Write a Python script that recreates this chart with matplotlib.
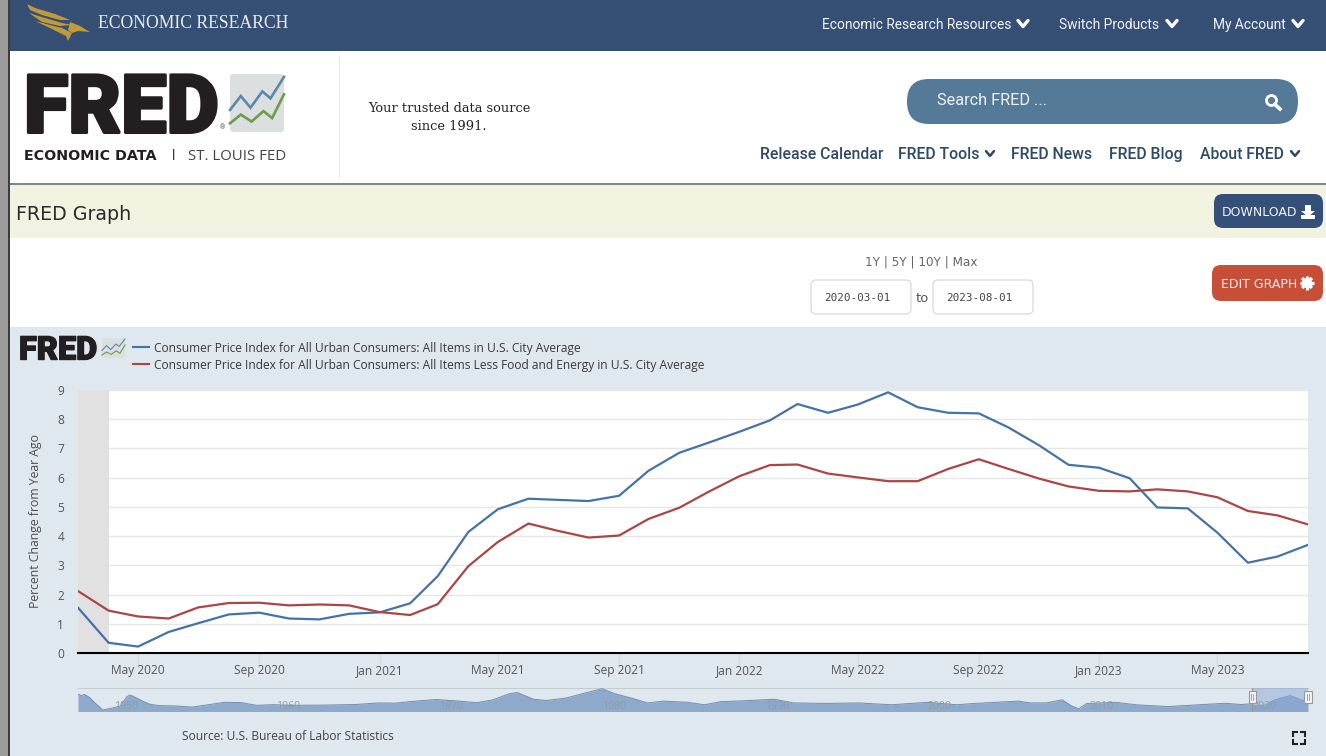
"""FRED graph page: CPI vs core CPI, percent change from year ago"""

import math

import matplotlib
matplotlib.use('Agg')
import matplotlib.pyplot as plt
import matplotlib.dates as mdates
import matplotlib.patheffects as pe
import pandas as pd
from matplotlib.patches import Rectangle, FancyBboxPatch, Polygon, Circle

W, H = 1326, 756

# main chart data, monthly from 2020-03
months = pd.date_range('2020-03-01', '2023-08-01', freq='MS')
all_items = [1.55, 0.35, 0.22, 0.72, 1.02, 1.32, 1.38, 1.18, 1.15, 1.34,
             1.39, 1.70, 2.63, 4.14, 4.92, 5.28, 5.24, 5.20, 5.38, 6.24, 6.85, 7.20,
             7.57, 7.96, 8.52, 8.22, 8.50, 8.92, 8.41, 8.22, 8.20, 7.72, 7.11, 6.44,
             6.34, 5.98, 4.98, 4.95, 4.12, 3.09, 3.30, 3.70]
core = [2.12, 1.45, 1.25, 1.18, 1.56, 1.71, 1.72, 1.63, 1.66, 1.63,
        1.40, 1.30, 1.67, 2.97, 3.80, 4.43, 4.18, 3.95, 4.02, 4.59, 4.97, 5.52,
        6.05, 6.43, 6.45, 6.14, 6.01, 5.88, 5.88, 6.30, 6.63, 6.30, 5.97, 5.70,
        5.55, 5.53, 5.60, 5.53, 5.33, 4.86, 4.71, 4.40]
recession_start, recession_end = '2020-03-01', '2020-04-01'
x_ticks = ['2020-05-01', '2020-09-01', '2021-01-01', '2021-05-01', '2021-09-01',
           '2022-01-01', '2022-05-01', '2022-09-01', '2023-01-01', '2023-05-01']
y_ticks = list(range(10))

series_names = ['Consumer Price Index for All Urban Consumers: All Items in U.S. City Average',
                'Consumer Price Index for All Urban Consumers: All Items Less Food and Energy in U.S. City Average']
series_colors = ['#4572a7', '#aa4643']

# navigator strip, long history of the first series
nav_years = [1948.0, 1948.2, 1948.4, 1948.7, 1949.0, 1949.3, 1949.5, 1950.0, 1950.6, 1951.0, 1951.2,
             1951.6, 1952.0, 1952.4, 1953.0, 1954.0, 1955.0, 1956.0, 1957.0, 1958.0, 1959.0, 1960.0,
             1961.0, 1963.0, 1965.0, 1966.5, 1967.5, 1968.5, 1970.0, 1971.5, 1972.5, 1973.5, 1974.5,
             1975.0, 1976.0, 1976.8, 1978.0, 1979.0, 1980.2, 1981.0, 1982.0, 1983.0, 1984.0, 1985.5,
             1986.5, 1987.5, 1989.0, 1990.8, 1992.0, 1994.0, 1996.0, 1998.0, 2000.2, 2002.0, 2003.0,
             2005.8, 2006.5, 2007.5, 2008.5, 2009.0, 2009.5, 2010.0, 2011.8, 2013.0, 2015.0, 2016.5,
             2018.5, 2019.5, 2020.1, 2020.4, 2021.0, 2021.5, 2022.5, 2023.0, 2023.6]
nav_values = [10.2, 8.8, 10.0, 7.5, 3.5, 0.0, -2.8, -1.5, 0.5, 8.0, 9.5,
              7.0, 4.3, 2.0, 0.8, 0.5, -0.4, 1.5, 3.5, 3.3, 1.0, 1.6,
              1.0, 1.2, 1.7, 3.0, 2.8, 4.2, 5.8, 4.4, 3.2, 5.5, 10.5,
              11.5, 6.0, 5.0, 7.0, 10.5, 14.6, 10.5, 7.0, 3.0, 4.5, 3.5,
              1.5, 4.0, 4.8, 6.0, 3.0, 2.6, 3.0, 1.5, 3.5, 1.5, 2.5,
              4.5, 3.0, 3.0, 5.5, 1.0, -1.8, 2.5, 3.5, 1.5, 0.0, 1.2,
              2.7, 1.7, 2.3, 0.3, 1.4, 5.3, 9.0, 6.4, 3.7]
nav_ticks = [1950, 1960, 1970, 1980, 1990, 2000, 2010, 2020]
nav_window = [2020.17, 2023.6]


def px_axes(left, top, right, bottom, **kw):
    """axes placed by screenshot pixels"""
    return fig.add_axes([left / W, 1 - bottom / H, (right - left) / W, (bottom - top) / H], **kw)


def rect(x0, y0, x1, y1, color, **kw):
    page.add_patch(Rectangle((x0, y0), x1 - x0, y1 - y0, facecolor=color, edgecolor='none', **kw))


def rbox(x0, y0, x1, y1, r, color, edge='none'):
    page.add_patch(FancyBboxPatch((x0 + r, y0 + r), x1 - x0 - 2 * r, y1 - y0 - 2 * r,
                                  boxstyle=f'round,pad={r},rounding_size={r}',
                                  facecolor=color, edgecolor=edge, linewidth=0.8))


def chevron(x, y, w, color, lw):
    page.plot([x - w, x, x + w], [y - w * 0.6, y + w * 0.6, y - w * 0.6],
              color=color, lw=lw, solid_capstyle='round', solid_joinstyle='round')


def label(x, y, s, px, color='#333333', ha='left', family='Roboto', **kw):
    return page.text(x, y, s, fontsize=px * 0.72, color=color, ha=ha, va='center_baseline', family=family, **kw)


def mini_chart(x0, y0, x1, y1, lw):
    """the small rising lines icon next to the FRED wordmark"""
    w, h = x1 - x0, y1 - y0
    rbox(x0, y0, x1, y1, h * 0.06, '#dcdfe0')
    blue = [(0, .62), (.2, .38), (.38, .58), (.6, .30), (.75, .42), (1, .05)]
    green = [(0, .85), (.2, .70), (.4, .82), (.62, .64), (.78, .76), (1, .35)]
    for pts, c in ((blue, '#5b87ab'), (green, '#6f9a4a')):
        page.plot([x0 + a * w for a, b in pts], [y0 + b * h for a, b in pts],
                  color=c, lw=lw, solid_joinstyle='miter')


fig = plt.figure(figsize=(W / 100, H / 100), dpi=100, facecolor='white')
page = fig.add_axes([0, 0, 1, 1])
page.set_xlim(0, W)
page.set_ylim(H, 0)
page.axis('off')

# page bands
rect(0, 0, 8, H, '#9c9c9c')
rect(8, 0, 10, H, '#3c3c3c')
rect(10, 0, W, 51, '#364f75')
rect(10, 183, W, 184.5, '#6f8c96')
rect(10, 184.5, W, 238, '#f1f2e0')
rect(10, 327, W, H, '#dfe7ef')
rect(338.5, 55, 340, 178, '#e6e6e6')

# top bar, eagle feathers then head
gold = '#c39a3a'
for pts in ([(27, 4), (35, 8), (55, 14), (70, 20), (60, 20), (42, 15), (30, 10)],
            [(29, 13), (45, 18), (62, 23), (72, 25), (60, 26), (42, 22)],
            [(35, 21), (50, 25), (62, 28), (72, 33), (68, 41), (66, 36), (52, 29)],
            [(70, 22), (80, 26), (90, 32), (78, 31), (72, 33), (68, 30)]):
    page.add_patch(Polygon(pts, facecolor=gold, edgecolor='none'))
label(98, 21, 'ECONOMIC RESEARCH', 17.6, '#e9edf2', family='Liberation Serif')
label(822, 23.5, 'Economic Research Resources', 13.7, '#f2f4f7')
chevron(1023, 23.5, 5, 'white', 2.4)
label(1059, 23.5, 'Switch Products', 13.7, '#f2f4f7')
chevron(1172, 23.5, 5, 'white', 2.4)
label(1213, 24, 'My Account', 13.7, '#f2f4f7')
chevron(1298, 23.5, 5, 'white', 2.4)

# logo row
logo = label(24, 102, 'FRED', 81, '#231f20', fontweight='black')
logo.set_path_effects([pe.withStroke(linewidth=2.2, foreground='#231f20')])
label(219.5, 127, '®', 7, '#555555')
mini_chart(230, 74, 284, 132, 1.9)
label(24, 154, 'ECONOMIC DATA', 14.3, '#231f20', fontweight='bold', family='DejaVu Sans')
label(172, 153, '|', 13, '#231f20', fontweight='bold')
label(188, 154, 'ST. LOUIS FED', 15, '#444444', family='Open Sans')
label(449, 107, 'Your trusted data source', 13, '#222222', ha='center', family='DejaVu Serif')
label(449, 124.5, 'since 1991.', 13, '#222222', ha='center', family='DejaVu Serif')

rbox(907, 79, 1298, 124, 22, '#557a97')
label(937, 99, 'Search FRED ...', 16.3, '#eef2f5')
page.add_patch(Circle((1271.5, 100.5), 5, facecolor='none', edgecolor='white', linewidth=2.0))
page.plot([1275, 1280], [104.5, 109], color='white', lw=2.6)

nav_color = '#2f4a66'
label(760, 153, 'Release Calendar', 15.8, nav_color, fontweight='medium')
label(898, 153, 'FRED Tools', 15.8, nav_color, fontweight='medium')
chevron(990, 153.5, 4, nav_color, 1.8)
label(1011, 153, 'FRED News', 15.8, nav_color, fontweight='medium')
label(1109, 153, 'FRED Blog', 15.8, nav_color, fontweight='medium')
label(1200, 153, 'About FRED', 15.8, nav_color, fontweight='medium')
chevron(1295, 153.5, 4, nav_color, 1.8)

# title band and controls
label(16, 212, 'FRED Graph', 19, '#2b2b2b', family='DejaVu Sans')
rbox(1214, 194, 1323, 228, 9, '#344f78')
label(1222, 211, 'DOWNLOAD', 12.5, '#f0f3f7', family='DejaVu Sans')
page.add_patch(Polygon([(1305, 205), (1311, 205), (1311, 211), (1315, 211), (1308, 217), (1301, 211), (1305, 211)],
                       facecolor='white', edgecolor='none'))
rect(1301, 215, 1315, 219, 'white')

label(921, 261, '1Y | 5Y | 10Y | Max', 12, '#666666', ha='center', family='DejaVu Sans')
for x0, x1, s in ((811, 911, '2020-03-01'), (933, 1033, '2023-08-01')):
    rbox(x0, 280, x1, 314, 5, 'white', edge='#d5d5d5')
    label(x0 + 13, 297, s, 11, '#444444', family='DejaVu Sans Mono')
label(922, 297, 'to', 13, '#555555', ha='center', family='DejaVu Sans')
rbox(1212, 265, 1323, 301, 9, '#c74f38')
label(1221, 283, 'EDIT GRAPH', 12.5, '#f6ece8', family='DejaVu Sans')
# gear icon
gx, gy = 1307, 283
for k in range(4):
    a = k * math.pi / 4
    page.plot([gx - 7 * math.cos(a), gx + 7 * math.cos(a)], [gy - 7 * math.sin(a), gy + 7 * math.sin(a)],
              color='white', lw=2.4, solid_capstyle='butt')
page.add_patch(Circle((gx, gy), 5, facecolor='white', edgecolor='none'))
page.add_patch(Circle((gx, gy), 2, facecolor='#c74f38', edgecolor='none'))

# chart header
small_logo = label(19, 347.5, 'FRED', 32.5, '#231f20', fontweight='black')
small_logo.set_path_effects([pe.withStroke(linewidth=1.0, foreground='#231f20')])
mini_chart(102, 338, 125, 358, 0.8)
for yy, name, c in zip((347, 364), series_names, series_colors):
    page.plot([133, 149], [yy, yy], color=c, lw=1.5)
    label(154, yy, name, 12.05, '#3a3a3a', family='Open Sans')

# main plot
ax = px_axes(78, 390, 1308, 653)
ax.set_facecolor('white')
ax.axvspan(pd.Timestamp(recession_start), pd.Timestamp(recession_end), color='#e1e1e1', lw=0, zorder=1)
ax.plot(months, all_items, color=series_colors[0], lw=1.6, zorder=3)
ax.plot(months, core, color=series_colors[1], lw=1.6, zorder=3)
ax.set_xlim(months[0], months[-1])
ax.set_ylim(0, 9)
ax.set_yticks(y_ticks)
ax.grid(axis='y', color='#e6e6e6', lw=1, zorder=0)
ax.set_axisbelow(True)
ax.set_xticks(pd.to_datetime(x_ticks))
ax.xaxis.set_major_formatter(mdates.DateFormatter('%b %Y'))
ax.tick_params(axis='x', length=10, width=1, color='#d3dce2', labelsize=8.6, labelcolor='#555555', pad=-2)
ax.tick_params(axis='y', length=0, labelsize=8.6, labelcolor='#555555', pad=10)
for t in ax.get_xticklabels() + ax.get_yticklabels():
    t.set_family('Open Sans')
for side in ('top', 'right', 'left'):
    ax.spines[side].set_visible(False)
ax.spines['bottom'].set_color('black')
ax.spines['bottom'].set_linewidth(1.5)
ax.set_ylabel('Percent Change from Year Ago', fontsize=8.8, color='#4d4d4d', family='Open Sans', labelpad=11)

# navigator
nav = px_axes(78, 687.5, 1308, 711.5)
nav.patch.set_alpha(0)
nav.fill_between(nav_years, nav_values, -4, color='#8eaacb', lw=0, zorder=2)
nav.plot(nav_years, nav_values, color='#6f8db3', lw=0.7, zorder=3)
nav.axvspan(nav_window[0], nav_window[1], color='#8aa6d6', alpha=0.5, lw=0, zorder=4)
nav.set_xlim(nav_years[0], nav_years[-1])
nav.set_ylim(-4, 15.6)
nav.set_xticks([])
nav.set_yticks([])
for side in ('left', 'right', 'bottom'):
    nav.spines[side].set_visible(False)
nav.spines['top'].set_color('#c4ccd0')
for yr in nav_ticks:
    nav.text(yr + 0.2, 4.3, str(yr), fontsize=7.6, color='#8f9aa8', ha='left', va='top', family='Open Sans', zorder=5)
for yr in nav_window:
    nav.plot([yr, yr], [-4, 15.6], color='#999999', lw=0.8, zorder=6)
    handle = Rectangle((yr - 0.22, 3.0), 0.44, 9.5, facecolor='#f2f2f2', edgecolor='#999999', lw=0.8, zorder=7)
    nav.add_patch(handle)
    handle.set_clip_on(False)
    for off in (-0.05, 0.05):
        nav.plot([yr + off, yr + off], [5, 10.5], color='#888888', lw=0.5, zorder=8, clip_on=False)

label(182, 735, 'Source: U.S. Bureau of Labor Statistics', 12, '#444444', family='Open Sans')

# fullscreen icon
for sx, sy in ((-1, -1), (1, -1), (-1, 1), (1, 1)):
    page.plot([1299 + sx * 6, 1299 + sx * 6, 1299 + sx * 2], [738 + sy * 2, 738 + sy * 6, 738 + sy * 6],
              color='#222222', lw=1.5, solid_joinstyle='miter')

fig.savefig('out.png', dpi=100, facecolor='white')
plt.close(fig)
